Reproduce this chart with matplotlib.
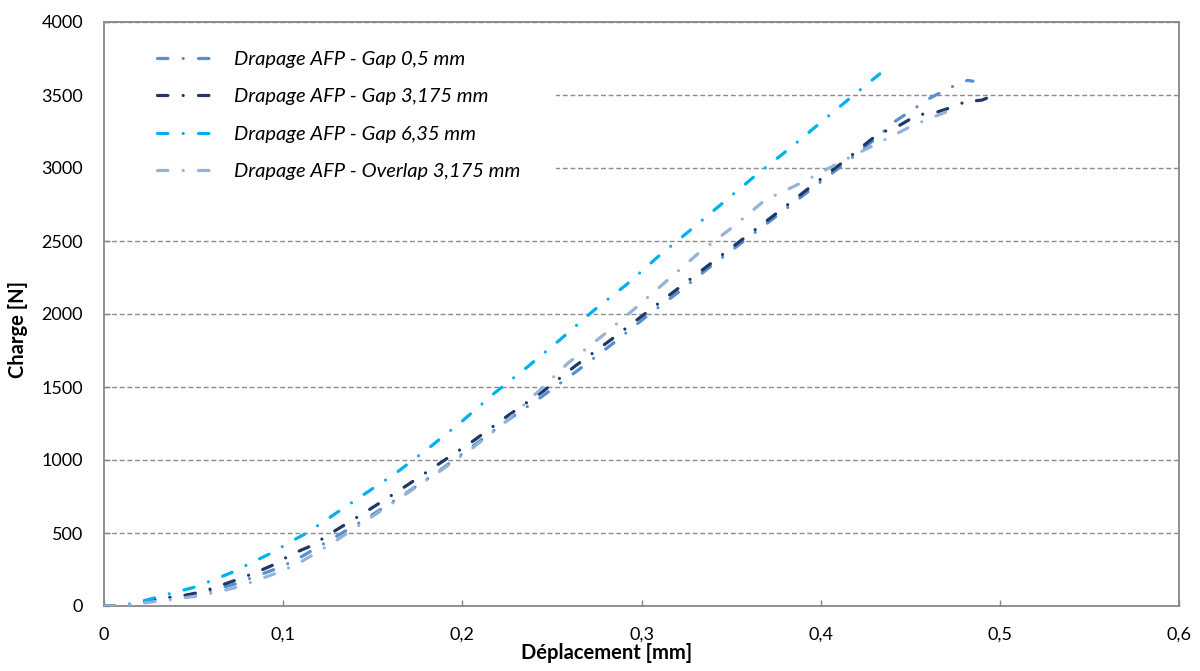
import matplotlib
matplotlib.use("Agg")
import matplotlib.pyplot as plt
from matplotlib.patches import Rectangle

plt.rcParams['font.family'] = ['Lato', 'DejaVu Sans']
plt.rcParams['lines.scale_dashes'] = False

# ---- data ----
labels = ["Drapage AFP - Gap 0,5 mm", "Drapage AFP - Gap 3,175 mm",
          "Drapage AFP - Gap 6,35 mm", "Drapage AFP - Overlap 3,175 mm"]
colors = ["#558ED5", "#1F3864", "#00B0F0", "#95B3D7"]

x_gap05 = [0, 0.008, 0.015, 0.025, 0.038, 0.05, 0.061, 0.073, 0.084, 0.095, 0.106, 0.126,
           0.147, 0.167, 0.187, 0.206, 0.225, 0.245, 0.264, 0.283, 0.301, 0.32, 0.339,
           0.358, 0.377, 0.395, 0.414, 0.432, 0.441, 0.451, 0.461, 0.472, 0.478, 0.482, 0.485]
y_gap05 = [0, 0, 12, 35, 60, 80, 110, 150, 200, 250, 308, 450,
           603, 760, 925, 1096, 1270, 1440, 1610, 1788, 1966, 2144, 2330,
           2508, 2686, 2858, 3036, 3215, 3315, 3397, 3479, 3548, 3585, 3600, 3595]

x_gap3175 = [0, 0.008, 0.015, 0.025, 0.038, 0.046, 0.054, 0.061, 0.073, 0.084, 0.095, 0.105,
             0.116, 0.126, 0.146, 0.166, 0.186, 0.206, 0.225, 0.245, 0.263, 0.282, 0.301,
             0.32, 0.339, 0.358, 0.377, 0.395, 0.414, 0.432, 0.443, 0.454, 0.465, 0.477,
             0.482, 0.486, 0.49, 0.494, 0.5]
y_gap3175 = [0, 0, 12, 40, 62, 75, 96, 123, 175, 226, 284, 356,
             414, 493, 644, 801, 966, 1130, 1300, 1470, 1644, 1815, 1993,
             2171, 2349, 2527, 2705, 2877, 3055, 3233, 3285, 3363, 3383, 3432,
             3465, 3460, 3465, 3485, 3525]

x_gap635 = [0, 0.008, 0.015, 0.025, 0.038, 0.05, 0.061, 0.072, 0.082, 0.093, 0.103, 0.114,
            0.123, 0.143, 0.163, 0.182, 0.2, 0.218, 0.237, 0.255, 0.273, 0.292, 0.309,
            0.328, 0.346, 0.364, 0.383, 0.401, 0.42, 0.433]
y_gap635 = [0, 0, 15, 45, 89, 127, 178, 233, 295, 360, 432, 506,
            582, 747, 911, 1089, 1267, 1459, 1644, 1829, 2021, 2205, 2390,
            2582, 2767, 2952, 3137, 3322, 3515, 3645]

x_overlap = [0, 0.008, 0.015, 0.025, 0.038, 0.05, 0.061, 0.073, 0.084, 0.095, 0.107, 0.126,
             0.147, 0.167, 0.187, 0.206, 0.225, 0.242, 0.259, 0.278, 0.296, 0.314, 0.332,
             0.351, 0.369, 0.389, 0.41, 0.431, 0.452, 0.474]
y_overlap = [0, 0, 10, 25, 45, 65, 90, 125, 170, 220, 281, 420,
             590, 755, 920, 1085, 1270, 1465, 1664, 1849, 2034, 2226, 2418,
             2596, 2781, 2897, 3034, 3164, 3295, 3404]

xticks = [0, 0.1, 0.2, 0.3, 0.4, 0.5, 0.6]
xticklabels = ["0", "0,1", "0,2", "0,3", "0,4", "0,5", "0,6"]
yticks = [0, 500, 1000, 1500, 2000, 2500, 3000, 3500, 4000]

series = [(x_gap05, y_gap05), (x_gap3175, y_gap3175), (x_gap635, y_gap635), (x_overlap, y_overlap)]

# ---- figure ----
fig = plt.figure(figsize=(12, 6.71), dpi=100)
ax = fig.add_axes([104/1200, 1-606/671, (1179-104)/1200, (606-22)/671])

dash = (0, (7.5, 11.0, 0.01, 11.0))
for (xs, ys), lab, col in zip(series, labels, colors):
    ax.plot(xs, ys, color=col, lw=2.3, linestyle=dash, dash_capstyle='round',
            solid_capstyle='round', label=lab, zorder=3)

ax.set_xlim(0, 0.6)
ax.set_ylim(0, 4000)
ax.set_xticks(xticks)
ax.set_xticklabels(xticklabels)
ax.set_yticks(yticks)
ax.set_yticklabels([str(v) for v in yticks])

ax.set_axisbelow(True)
ax.yaxis.grid(True, color="#8c8c8c", lw=1.0, linestyle=(0, (3.5, 2.0)))
ax.xaxis.grid(False)

for s in ax.spines.values():
    s.set_color("#878787")
    s.set_linewidth(1.3)

ax.tick_params(axis='both', direction='in', length=4, width=1.0, color="#878787",
               labelsize=13, labelcolor="black")
ax.tick_params(axis='x', pad=15)
ax.tick_params(axis='y', pad=15)

ax.set_xlabel("Déplacement [mm]", fontsize=14.5, fontweight='bold')
ax.xaxis.set_label_coords((607-104)/1075, -(37)/584)
ax.set_ylabel("Charge [N]", fontsize=14.5, fontweight='bold')
ax.yaxis.set_label_coords(-(104-28)/1075, (606-330)/584)

# white legend background
ax.add_patch(Rectangle((0.0, 0.70), 0.42, 0.275, transform=ax.transAxes,
                       facecolor="white", edgecolor="none", zorder=1))

leg = ax.legend(loc='upper left', bbox_to_anchor=((157-104)/1075, 1-29/584),
                frameon=False, borderpad=0, borderaxespad=0,
                handlelength=2.8, handletextpad=1.0, labelspacing=1.0,
                prop={'family': 'Lato', 'style': 'italic', 'size': 14.5})

fig.savefig("out.png", dpi=100)
